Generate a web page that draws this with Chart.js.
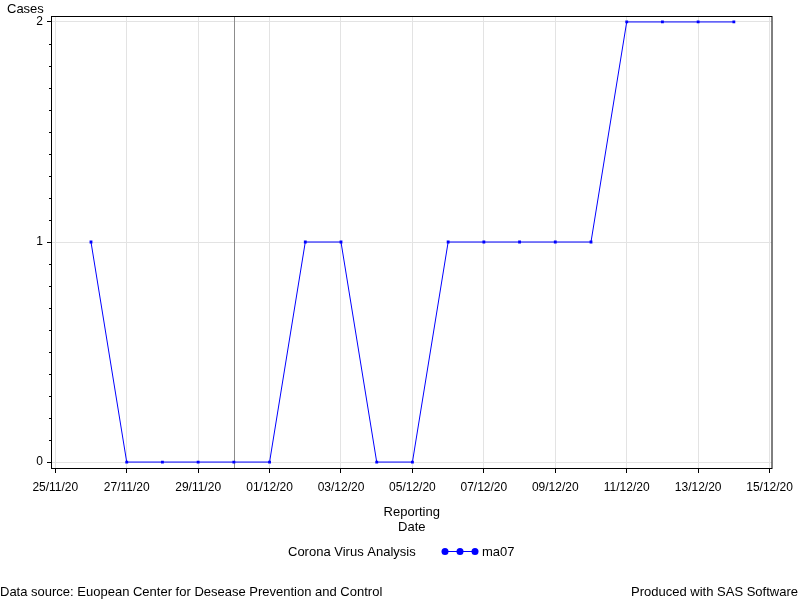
<!DOCTYPE html>
<html>
<head>
<meta charset="utf-8">
<style>
  html, body { margin: 0; padding: 0; background: #fff; }
  #wrap { width: 800px; height: 600px; }
</style>
<script src="https://cdn.jsdelivr.net/npm/chart.js@4/dist/chart.umd.min.js"></script>
</head>
<body>
<div id="wrap"><canvas id="chart" width="800" height="600"></canvas></div>
<script>
// data
const reportDates = [
  "26/11/20", "27/11/20", "28/11/20", "29/11/20", "30/11/20", "01/12/20", "02/12/20",
  "03/12/20", "04/12/20", "05/12/20", "06/12/20", "07/12/20", "08/12/20", "09/12/20",
  "10/12/20", "11/12/20", "12/12/20", "13/12/20", "14/12/20",
];
const ma07 = [1, 0, 0, 0, 0, 0, 1, 1, 0, 0, 1, 1, 1, 1, 1, 2, 2, 2, 2];

const xTickDates = [
  "25/11/20", "27/11/20", "29/11/20", "01/12/20", "03/12/20",
  "05/12/20", "07/12/20", "09/12/20", "11/12/20", "13/12/20", "15/12/20",
];
const yTickValues = [0, 1, 2];
const refLineDate = "30/11/20";
const startDate = "25/11/20";

const FONT = '"Liberation Sans", Arial, sans-serif';

function toUTC(s) {
  const [d, m, y] = s.split("/").map(Number);
  return Date.UTC(2000 + y, m - 1, d);
}
function dayOf(s) {
  return (toUTC(s) - toUTC(startDate)) / 86400000;
}

const points = reportDates.map((d, i) => ({ x: dayOf(d), y: ma07[i] }));

const sasExtras = {
  id: "sasExtras",
  beforeDatasetsDraw(chart) {
    const { ctx, chartArea, scales } = chart;
    const x = Math.round(scales.x.getPixelForValue(dayOf(refLineDate))) + 0.5;
    ctx.save();
    ctx.strokeStyle = "#8c8c8c";
    ctx.lineWidth = 1;
    ctx.beginPath();
    ctx.moveTo(x, chartArea.top);
    ctx.lineTo(x, chartArea.bottom);
    ctx.stroke();
    ctx.restore();
  },
  afterDraw(chart) {
    const { ctx, chartArea, scales } = chart;
    const { left, top, right, bottom } = chartArea;
    ctx.save();

    // frame
    ctx.strokeStyle = "#000";
    ctx.lineWidth = 1;
    ctx.strokeRect(Math.round(left) - 0.5, Math.round(top) + 0.5,
      Math.round(right - left) + 0.5, Math.round(bottom - top));

    // minor y ticks
    ctx.beginPath();
    for (let k = 0; k <= 20; k++) {
      if (k % 10 === 0) continue;
      const py = Math.round(scales.y.getPixelForValue(k / 10)) + 0.5;
      ctx.moveTo(Math.round(left) - 3, py);
      ctx.lineTo(Math.round(left), py);
    }
    ctx.stroke();

    ctx.fillStyle = "#000";
    ctx.font = "13px " + FONT;
    ctx.textBaseline = "middle";

    // y title
    ctx.textAlign = "left";
    ctx.fillText("Cases", 7, 9);

    // x title
    ctx.textAlign = "center";
    const cx = (left + right) / 2;
    ctx.fillText("Reporting", cx, 512);
    ctx.fillText("Date", cx, 527);

    // legend
    ctx.textAlign = "left";
    ctx.fillText("Corona Virus Analysis", 288, 552);
    ctx.strokeStyle = "#0000ff";
    ctx.fillStyle = "#0000ff";
    ctx.beginPath();
    ctx.moveTo(445, 551.5);
    ctx.lineTo(475, 551.5);
    ctx.stroke();
    [445, 460, 475].forEach((px) => {
      ctx.beginPath();
      ctx.arc(px, 551.5, 3.5, 0, Math.PI * 2);
      ctx.fill();
    });
    ctx.fillStyle = "#000";
    ctx.fillText("ma07", 482, 552);

    // footer
    ctx.fillText("Data source: Euopean Center for Desease Prevention and Control", 0, 592);
    ctx.textAlign = "right";
    ctx.fillText("Produced with SAS Software", 798, 592);

    ctx.restore();
  },
};

Chart.defaults.font.family = FONT;
Chart.defaults.font.size = 12;
Chart.defaults.color = "#000";

new Chart(document.getElementById("chart").getContext("2d"), {
  type: "line",
  data: {
    datasets: [
      {
        label: "ma07",
        data: points,
        borderColor: "#0000ff",
        backgroundColor: "#0000ff",
        borderWidth: 1,
        pointStyle: "rect",
        pointRadius: 2,
        pointBorderWidth: 0,
        tension: 0,
      },
    ],
  },
  options: {
    responsive: false,
    devicePixelRatio: 1,
    animation: false,
    layout: { padding: { top: 16, right: 27, bottom: 0, left: 0 } },
    plugins: {
      legend: { display: false },
      tooltip: { enabled: false },
    },
    scales: {
      x: {
        type: "linear",
        min: -0.092,
        max: 20.056,
        afterFit: (s) => { s.height = 132; },
        afterBuildTicks: (s) => { s.ticks = xTickDates.map((d) => ({ value: dayOf(d) })); },
        ticks: {
          autoSkip: false,
          maxRotation: 0,
          padding: 7,
          callback: (v, i) => xTickDates[i],
        },
        grid: { color: "#e3e3e3", tickColor: "#000", tickLength: 5 },
        border: { display: false },
      },
      y: {
        min: -0.027,
        max: 2.027,
        afterFit: (s) => { s.width = 52; },
        afterBuildTicks: (s) => { s.ticks = yTickValues.map((v) => ({ value: v })); },
        ticks: { padding: 4, callback: (v) => String(v) },
        grid: { color: "#e3e3e3", tickColor: "#000", tickLength: 5 },
        border: { display: false },
      },
    },
  },
  plugins: [sasExtras],
});
</script>
</body>
</html>
